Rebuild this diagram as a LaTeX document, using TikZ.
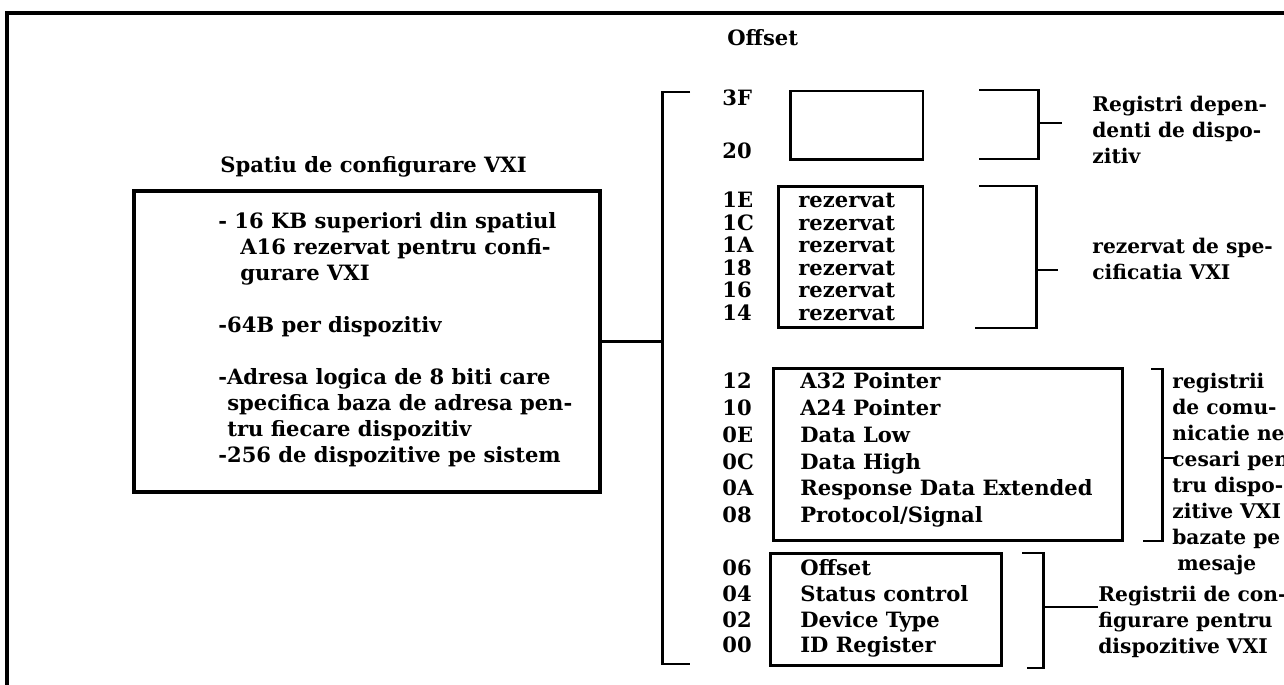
\documentclass[tikz,border=0pt]{standalone}
\usepackage{fontspec}
\setmainfont{DejaVu Serif}
\begin{document}
\begin{tikzpicture}[x=0.02cm,y=-0.02cm,
        txt/.style={font=\fontsize{12}{14.8}\selectfont\bfseries, inner sep=0pt, anchor=west, text height=1.6ex, text depth=0.3ex},
        note/.style={font=\fontsize{11.5}{14.8}\selectfont\bfseries, inner sep=0pt, anchor=west, align=left},
        regbox/.style={draw, line width=1.7pt, inner sep=0pt},
        brk/.style={line width=1.7pt}]
    \useasboundingbox (0,0) rectangle (1284,685);
    \clip (0,0) rectangle (1284,685);

    % frame
    \draw[line width=2.4pt] (5,13) -- (1284,13);
    \draw[line width=2.4pt] (7,13) -- (7,685);

    % configuration space
    \node[txt] (title) at (220,167) {Spatiu de configurare VXI};
    \node[regbox, line width=2pt, minimum width=9.32cm, minimum height=6.02cm] (cfg) at (367,341.5) {};
    \node[note, font=\fontsize{12}{14.8}\selectfont\bfseries] (cfgtext) at (218,340) {- 16 KB superiori din spatiul\\
        \hspace*{0.44cm}A16 rezervat pentru confi-\\
        \hspace*{0.44cm}gurare VXI\\[14.8pt]
        -64B per dispozitiv\\[14.8pt]
        -Adresa logica de 8 biti care\\
        \hspace*{0.18cm}specifica baza de adresa pen-\\
        \hspace*{0.18cm}tru fiecare dispozitiv\\
        -256 de dispozitive pe sistem};

    % offsets
    \node[txt] (offset) at (727,40) {Offset};
    \coordinate (bigT) at (662,92);
    \coordinate (bigB) at (662,664);
    \draw[brk] (690,92) -- (bigT) -- (bigB) -- (690,664);
    \draw[brk] (cfg.east) -- (cfg.east -| bigT);

    \node[txt] (o3F) at (722,100) {3F};
    \node[txt] (o20) at (722,153) {20};
    \node[regbox, minimum width=2.66cm, minimum height=1.38cm] (devbox) at (856.5,125.5) {};

    \node[regbox, minimum width=2.9cm, minimum height=2.84cm] (rezbox) at (850.5,257) {};
    \foreach \off/\y in {1E/202,1C/225,1A/247,18/270,16/292,14/315} {
        \node[txt] (o\off) at (722,\y) {\off};
        \node[txt] (r\off) at (798,\y) {rezervat};
    }

    \node[regbox, minimum width=7cm, minimum height=3.46cm] (combox) at (948,454.5) {};
    \foreach \off/\lbl/\y in {12/{A32 Pointer}/383,10/{A24 Pointer}/410,0E/{Data Low}/437,
            0C/{Data High}/464,0A/{Response Data Extended}/490,08/{Protocol/Signal}/517} {
        \node[txt] (o\off) at (722,\y) {\off};
        \node[txt] (c\off) at (800,\y) {\lbl};
    }

    \node[regbox, minimum width=4.64cm, minimum height=2.26cm] (cfgbox) at (886,609.5) {};
    \foreach \off/\lbl/\y in {06/Offset/570,04/{Status control}/596,02/{Device Type}/622,00/{ID Register}/647} {
        \node[txt] (o\off) at (722,\y) {\off};
        \node[txt] (g\off) at (800,\y) {\lbl};
    }

    % brackets and notes
    \draw[brk] (979,90) -- (1038,90) -- (1038,159) -- (979,159);
    \coordinate (tdev) at (1062,123);
    \draw[brk] (1038,123) -- (tdev);
    \node[note] (lbldev) at (1092,130) {Registri depen-\\denti de dispo-\\zitiv};

    \draw[brk] (979,186) -- (1036,186) -- (1036,328) -- (975,328);
    \coordinate (trez) at (1058,270);
    \draw[brk] (1036,270) -- (trez);
    \node[note] (lblrez) at (1092,259) {rezervat de spe-\\cificatia VXI};

    \draw[brk] (1151,369) -- (1162,369) -- (1162,541) -- (1143,541);
    \coordinate (tcom) at (1177,458);
    \draw[brk] (1162,458) -- (tcom);
    \node[note] (lblcom) at (1172,474) {registrii\\de comu-\\nicatie ne-\\cesari pen-\\tru dispo-\\zitive VXI\\bazate pe\\\hspace*{0.1cm}mesaje};

    \draw[brk] (1022,553) -- (1043,553) -- (1043,668) -- (1027,668);
    \node[note] (lblcfg) at (1098,622) {Registrii de con-\\figurare pentru\\dispozitive VXI};
    \draw[brk] (1043,607) -- (lblcfg.west |- 0,607);
\end{tikzpicture}
\end{document}
